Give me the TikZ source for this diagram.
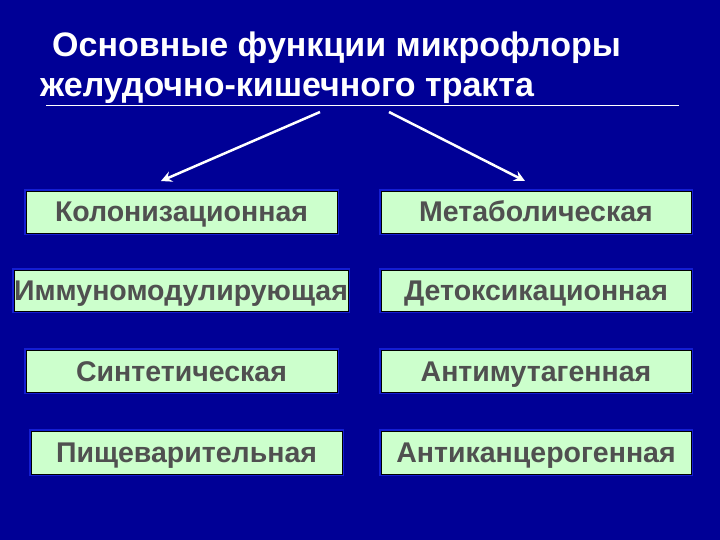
\documentclass[tikz,border=0pt]{standalone}
\usepackage{fontspec}
\setmainfont{Liberation Sans}
\usetikzlibrary{arrows.meta}
\definecolor{bgblue}{RGB}{0,0,150}
\definecolor{glow}{RGB}{20,30,210}
\definecolor{boxfill}{RGB}{204,255,204}
\definecolor{boxtext}{RGB}{80,80,80}
\tikzset{
  fbox/.style={draw=black, line width=0.8pt, fill=boxfill, inner sep=0pt,
    preaction={draw=glow, line width=4pt},
    text=boxtext, font=\bfseries\fontsize{28.5}{34}\selectfont,
    text height=20pt, text depth=0pt},
  ttl/.style={text=white, font=\bfseries\fontsize{34}{40}\selectfont, anchor=base west, inner sep=0pt},
  arr/.style={draw=white, line width=2.5pt, -{Stealth[length=11pt,width=11pt,inset=4pt]}}
}
\newcommand{\fb}[6]{\node[fbox, minimum width=#3pt-#1pt, minimum height=#4pt-#2pt] (#5) at ({(#1+#3)/2},{(#2+#4)/2}) {#6};}
\begin{document}
\begin{tikzpicture}[x=1pt,y=-1pt]
\fill[bgblue] (0,0) rectangle (720,540);
\useasboundingbox (0,0) rectangle (720,540);
\node[ttl] (t1) at (52,57) {Основные функции микрофлоры};
\node[ttl] (t2) at (40,97) {желудочно-кишечного тракта};
\coordinate (ul) at (46,105);
\coordinate (ur) at (679,105);
\draw[white, line width=0.6pt] (ul) -- (ur);
\fb{26}{191}{337}{233}{k}{Колонизационная}
\fb{381}{191}{691}{233}{m}{Метаболическая}
\fb{14}{270}{348}{311}{i}{Иммуномодулирующая}
\fb{381}{270}{691}{311}{d}{Детоксикационная}
\fb{26}{350}{337}{392}{s}{Синтетическая}
\fb{381}{350}{691}{392}{a1}{Антимутагенная}
\fb{31}{431}{342}{474}{p}{Пищеварительная}
\fb{381}{431}{691}{474}{a2}{Антиканцерогенная}
\coordinate (s1) at (320,112);
\coordinate (e1) at (161,181);
\coordinate (s2) at (389,112);
\coordinate (e2) at (525,181);
\draw[arr] (s1) -- (e1);
\draw[arr] (s2) -- (e2);
\end{tikzpicture}
\end{document}
